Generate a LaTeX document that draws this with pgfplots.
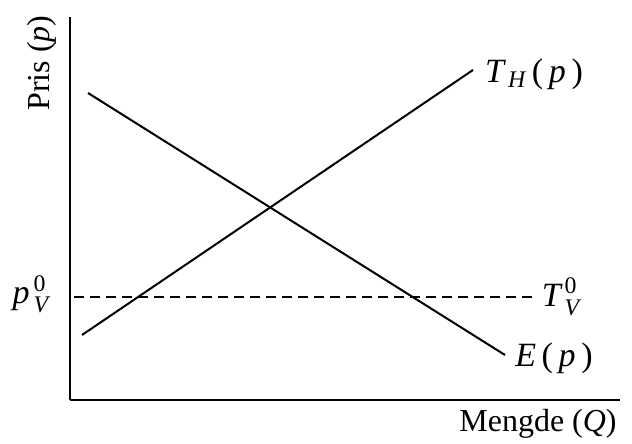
\documentclass[border=0pt]{standalone}
\usepackage{amsmath}
\usepackage{fontspec}
\setmainfont{Liberation Serif}
\usepackage{pgfplots}
\pgfplotsset{compat=1.18}
\begin{document}
\fontsize{16}{19}\selectfont
\begin{tikzpicture}[x=0.5pt,y=0.5pt]
\useasboundingbox (0,0) rectangle (632,444);
\begin{axis}[
    at={(35pt,22pt)}, anchor=south west,
    scale only axis,
    width=275pt, height=191.5pt,
    xmin=70, xmax=620, ymin=44, ymax=427,
    axis x line=bottom, axis y line=left,
    axis line style={-, line width=1.1pt},
    ticks=none,
    clip=false,
  ]
  % E(p)
  \addplot[black, line width=1pt] coordinates {(88,351) (505,89)};
  % T_H(p)
  \addplot[black, line width=1pt] coordinates {(82,109) (473,374)};
  % T_V^0
  \addplot[black, line width=1pt, dashed, dash pattern=on 5pt off 3pt] coordinates {(74,147) (536,147)};

  \node[rotate=90] at (axis cs:42,381) {Pris (\textit{p})};
  \node[font=\fontsize{17}{20}\selectfont] at (axis cs:31,150) {$\textit{p}^{\,\text{0}}_{\,\text{\itshape V}}$};
  \node[font=\fontsize{17}{20}\selectfont] at (axis cs:561,147) {$\textit{T}^{\,\text{0}}_{\,\text{\itshape V}}$};
  \node[font=\fontsize{17}{20}\selectfont] at (axis cs:554,86) {\textit{E}\,(\,\textit{p}\,)};
  \node[font=\fontsize{17}{20}\selectfont] at (axis cs:534,370) {$\textit{T}_{\,\text{\itshape H}}$\,(\,\textit{p}\,)};
  \node at (axis cs:538,20) {Mengde (\textit{Q})};
\end{axis}
\end{tikzpicture}
\end{document}
